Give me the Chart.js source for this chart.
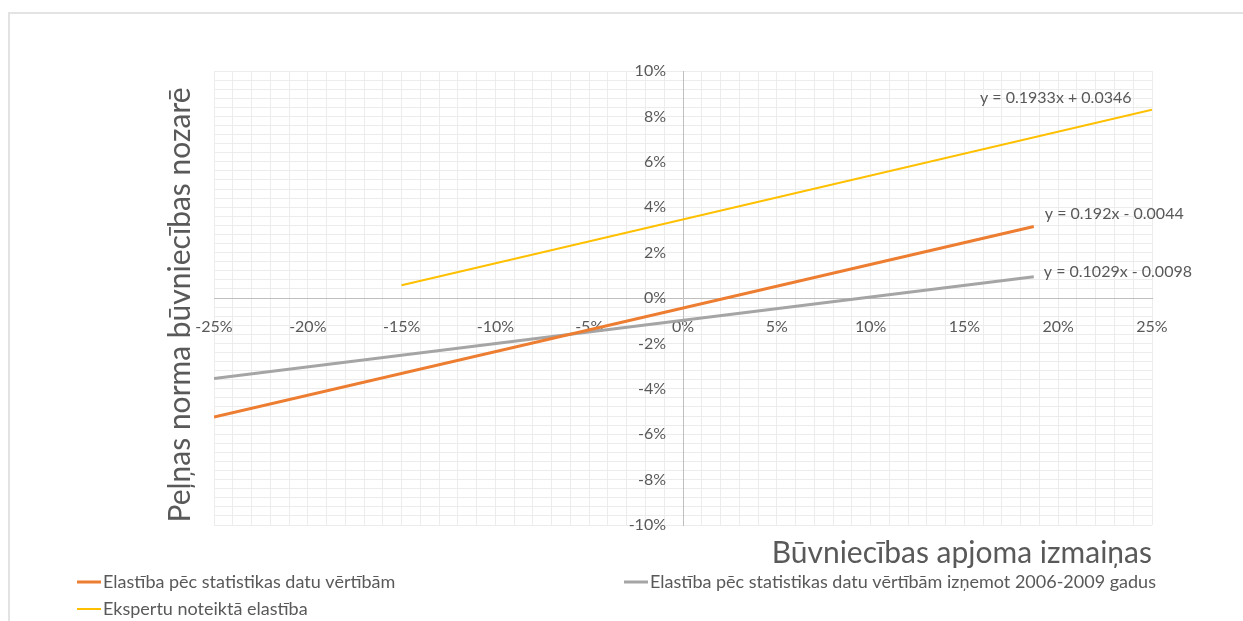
<!DOCTYPE html>
<html lang="lv">
<head>
    <meta charset="UTF-8">
    <title>Elastība</title>
    <style>
        html, body { margin: 0; padding: 0; background: #ffffff; }
        #frame {
            position: absolute;
            left: 8px;
            top: 12px;
            width: 1240px;
            height: 615px;
            border-left: 2px solid #e3e3e3;
            border-top: 2px solid #e3e3e3;
        }
        #wrap {
            position: absolute;
            left: 0;
            top: 0;
            width: 1243px;
            height: 621px;
        }
    </style>
    <script src="https://cdn.jsdelivr.net/npm/chart.js"></script>
</head>
<body>
    <div id="frame"></div>
    <div id="wrap"><canvas id="grafiks"></canvas></div>

    <script>
        // sērijas: galapunkti (x = apjoma izmaiņas, y = peļņas norma)
        const nosaukumi = [
            "Elastība pēc statistikas datu vērtībām",
            "Elastība pēc statistikas datu vērtībām izņemot 2006-2009 gadus",
            "Ekspertu noteiktā elastība"
        ];
        const statX = [-0.25, 0.187];
        const statY = [-0.0524, 0.0315];
        const bezKrizesX = [-0.25, 0.187];
        const bezKrizesY = [-0.0355, 0.0094];
        const ekspertuX = [-0.15, 0.25];
        const ekspertuY = [0.0056, 0.0829];
        const vienadojumi = [
            "y = 0.192x - 0.0044",
            "y = 0.1029x - 0.0098",
            "y = 0.1933x + 0.0346"
        ];
        const krasas = ["#ED7D31", "#A5A5A5", "#FFC000"];

        const teksts = "#595959";
        const fonts = "Lato, 'Open Sans', sans-serif";

        function punkti(xs, ys) {
            return xs.map((x, i) => ({ x: x, y: ys[i] }));
        }

        function procenti(v) {
            return Math.round(v * 100) + "%";
        }

        // vienādojumu novietojums attiecībā pret līnijas pēdējo punktu (px)
        const vienadojumuNobide = [
            { dx: 11, dy: -13 },
            { dx: 10, dy: -5 },
            { dx: -172, dy: -12 }
        ];

        const papildinajumi = {
            id: "papildinajumi",
            afterDraw(chart) {
                const ctx = chart.ctx;
                const area = chart.chartArea;
                const sx = chart.scales.x;
                const sy = chart.scales.y;
                ctx.save();

                // y ass iedaļas pa kreisi no ass, kas iet caur x = 0
                ctx.font = "16px " + fonts;
                ctx.fillStyle = teksts;
                ctx.textAlign = "right";
                ctx.textBaseline = "middle";
                const asx = sx.getPixelForValue(0);
                sy.ticks.forEach(t => {
                    if (Math.round(t.value * 1000) % 20 === 0) {
                        ctx.fillText(procenti(t.value), asx - 17, sy.getPixelForValue(t.value));
                    }
                });

                // trendlīniju vienādojumi
                ctx.textAlign = "left";
                chart.data.datasets.forEach((ds, i) => {
                    const p = ds.data[ds.data.length - 1];
                    const px = sx.getPixelForValue(p.x);
                    const py = sy.getPixelForValue(p.y);
                    ctx.fillText(vienadojumi[i], px + vienadojumuNobide[i].dx, py + vienadojumuNobide[i].dy);
                });

                // asu nosaukumi
                ctx.font = "30px " + fonts;
                ctx.textAlign = "right";
                ctx.fillText("Būvniecības apjoma izmaiņas", area.right, 553);

                ctx.translate(180, 305);
                ctx.rotate(-Math.PI / 2);
                ctx.textAlign = "center";
                ctx.fillText("Peļņas norma būvniecības nozarē", 0, 0);
                ctx.setTransform(1, 0, 0, 1, 0, 0);

                // leģenda divās kolonnās
                const vietas = [
                    { x: 77, y: 582 },
                    { x: 624, y: 582 },
                    { x: 77, y: 609 }
                ];
                ctx.font = "18px " + fonts;
                ctx.textAlign = "left";
                chart.data.datasets.forEach((ds, i) => {
                    const v = vietas[i];
                    ctx.strokeStyle = ds.borderColor;
                    ctx.lineWidth = ds.borderWidth;
                    ctx.beginPath();
                    ctx.moveTo(v.x, v.y);
                    ctx.lineTo(v.x + 24, v.y);
                    ctx.stroke();
                    ctx.fillStyle = teksts;
                    ctx.fillText(ds.label, v.x + 26, v.y);
                });
                ctx.restore();
            }
        };

        new Chart(document.getElementById("grafiks"), {
            type: "scatter",
            data: {
                datasets: [
                    {
                        label: nosaukumi[0],
                        data: punkti(statX, statY),
                        showLine: true,
                        borderColor: krasas[0],
                        backgroundColor: krasas[0],
                        borderWidth: 3,
                        pointRadius: 0
                    },
                    {
                        label: nosaukumi[1],
                        data: punkti(bezKrizesX, bezKrizesY),
                        showLine: true,
                        borderColor: krasas[1],
                        backgroundColor: krasas[1],
                        borderWidth: 3,
                        pointRadius: 0
                    },
                    {
                        label: nosaukumi[2],
                        data: punkti(ekspertuX, ekspertuY),
                        showLine: true,
                        borderColor: krasas[2],
                        backgroundColor: krasas[2],
                        borderWidth: 2,
                        pointRadius: 0
                    }
                ]
            },
            options: {
                responsive: true,
                maintainAspectRatio: false,
                animation: false,
                layout: {
                    padding: { left: 214, top: 71, right: 91, bottom: 96 }
                },
                plugins: {
                    legend: { display: false },
                    tooltip: { enabled: false }
                },
                scales: {
                    x: {
                        type: "linear",
                        position: { y: 0 },
                        min: -0.25,
                        max: 0.25,
                        grid: { color: "#ececec", drawTicks: false },
                        border: { color: "#bfbfbf", width: 1 },
                        ticks: {
                            stepSize: 0.01,
                            autoSkip: false,
                            maxRotation: 0,
                            padding: 19,
                            color: teksts,
                            font: { family: fonts, size: 16 },
                            callback: v => Math.round(v * 100) % 5 === 0 ? procenti(v) : ""
                        }
                    },
                    y: {
                        type: "linear",
                        position: { x: 0 },
                        min: -0.1,
                        max: 0.1,
                        grid: { color: "#ececec", drawTicks: false },
                        border: { color: "#bfbfbf", width: 1 },
                        ticks: {
                            stepSize: 0.004,
                            autoSkip: false,
                            display: false
                        }
                    }
                }
            },
            plugins: [papildinajumi]
        });
    </script>
</body>
</html>
